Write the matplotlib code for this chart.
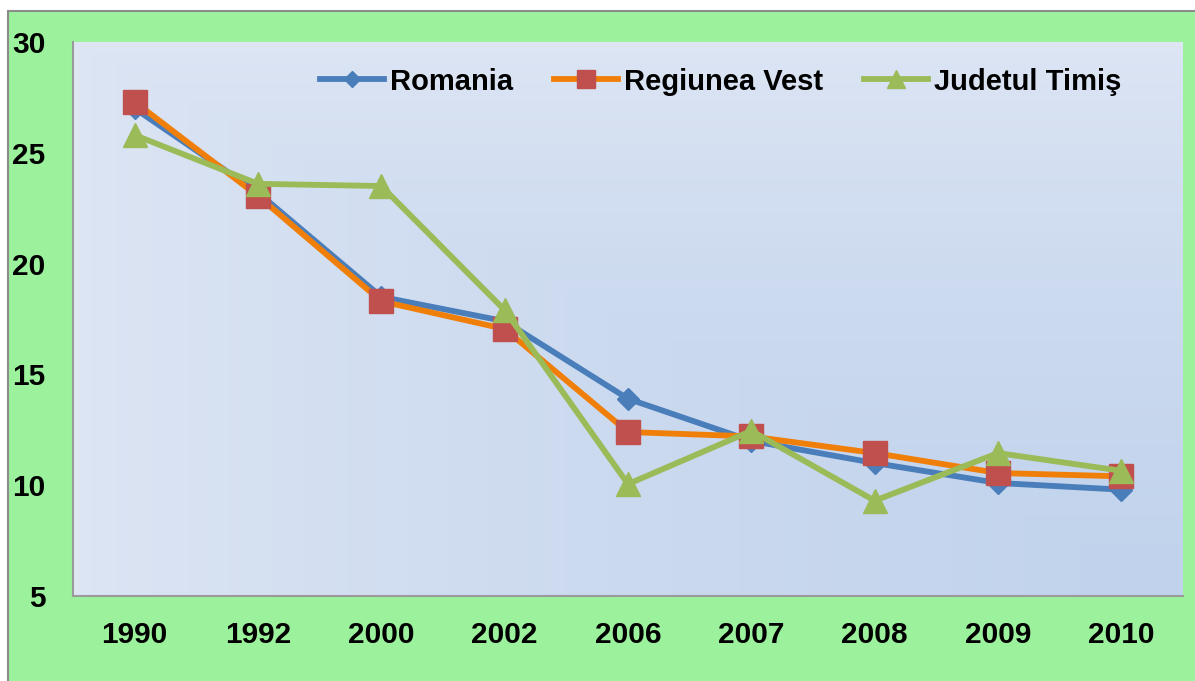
import numpy as np
import matplotlib.pyplot as plt
from matplotlib.patches import Rectangle
from matplotlib.colors import LinearSegmentedColormap

plt.rcParams['font.family'] = ['Liberation Sans', 'DejaVu Sans']
plt.rcParams['font.weight'] = 'bold'

years = ['1990', '1992', '2000', '2002', '2006', '2007', '2008', '2009', '2010']
romania = [27.0, 23.2, 18.5, 17.4, 13.9, 12.0, 11.0, 10.1, 9.8]
regiunea_vest = [27.3, 23.05, 18.3, 17.05, 12.4, 12.2, 11.45, 10.55, 10.4]
judetul_timis = [25.8, 23.6, 23.5, 17.9, 10.05, 12.45, 9.3, 11.45, 10.65]

fig = plt.figure(figsize=(11.95, 6.81), dpi=100)
fig.patch.set_facecolor('white')

# green chart area with a grey edge on the left and top
W, H = 1195, 681
fig.patches.append(Rectangle((8 / W, -0.1), 1.2, 1.1 - 11 / H, transform=fig.transFigure,
                             facecolor='#9cf29c', edgecolor='#8c8c8c', linewidth=1.5,
                             zorder=-5))

ax = fig.add_axes([73 / W, 1 - 596 / H, (1183 - 73) / W, (596 - 42) / H])
ax.set_facecolor('none')

# plot area gradient: pale along top and left, bluer towards the bottom right corner
gx, gy = np.meshgrid(np.linspace(0, 1, 300), np.linspace(0, 1, 150))
grad = np.minimum(gx, gy) ** 0.7
cmap = LinearSegmentedColormap.from_list('pa', ['#dee6f4', '#c0d2ec'])
ax.imshow(grad, extent=[0, 1, 0, 1], transform=ax.transAxes, cmap=cmap,
          aspect='auto', origin='upper', zorder=0)

x = np.arange(len(years))
ax.plot(x, romania, color='#4a7ebb', lw=4.2, marker='D', ms=11.5,
        mfc='#4a7ebb', mec='#4a7ebb', label='Romania', zorder=3)
ax.plot(x, regiunea_vest, color='#f07f09', lw=4.2, marker='s', ms=17,
        mfc='#c0504d', mec='#c0504d', label='Regiunea Vest', zorder=4)
ax.plot(x, judetul_timis, color='#9bbb59', lw=4.2, marker='^', ms=17,
        mfc='#9bbb59', mec='#9bbb59', label='Judetul Timiş', zorder=5)

ax.set_xlim(-0.5, len(years) - 0.5)
ax.set_ylim(5, 30)
ax.set_xticks(x)
ax.set_xticklabels(years)
ax.set_yticks([5, 10, 15, 20, 25, 30])
ax.tick_params(axis='both', length=0, labelsize=21.5)
ax.tick_params(axis='x', pad=18)
ax.tick_params(axis='y', pad=20)

for s in ['top', 'right']:
    ax.spines[s].set_visible(False)
for s in ['left', 'bottom']:
    ax.spines[s].set_color('#9a9a9a')
    ax.spines[s].set_linewidth(1.5)

ax.legend(loc='upper right', bbox_to_anchor=(0.955, 0.975), ncol=3, frameon=False,
          fontsize=21, handlelength=2.2, handletextpad=0.2, columnspacing=1.4,
          markerscale=0.75, borderaxespad=0)

fig.savefig('out.png', dpi=100)
